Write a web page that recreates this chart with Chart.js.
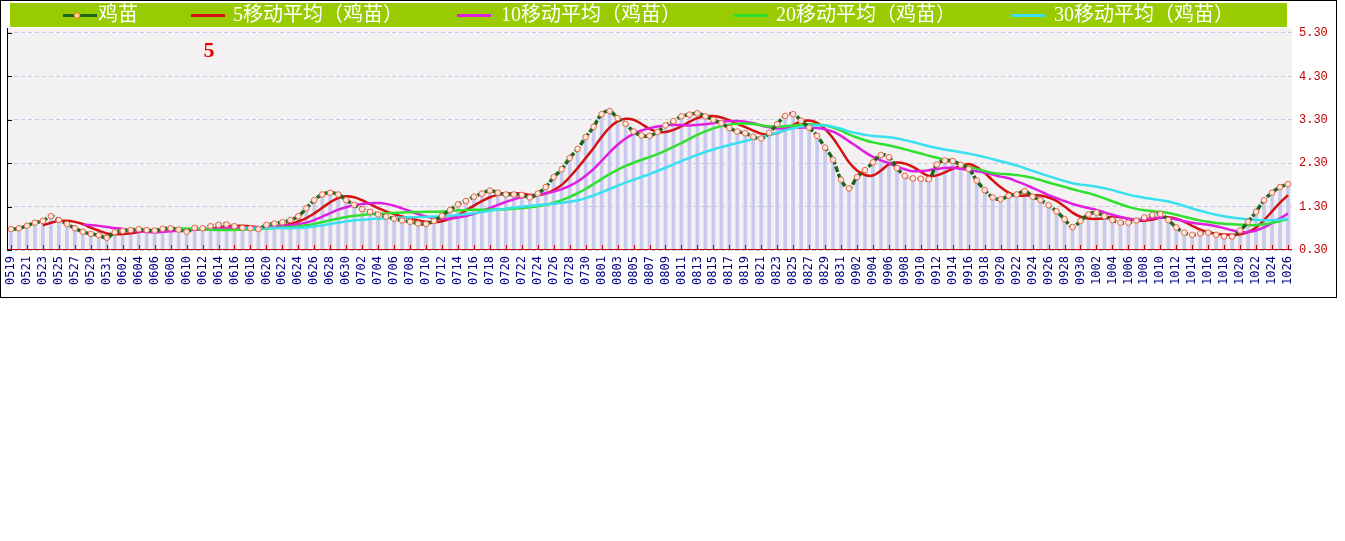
<!DOCTYPE html>
<html>
<head>
<meta charset="utf-8">
<script src="https://cdn.jsdelivr.net/npm/chart.js@4.4.0/dist/chart.umd.min.js"></script>
<style>
  html, body { margin: 0; padding: 0; background: #fff; }
  #box { position: absolute; left: 0; top: 0; width: 1335px; height: 296px; border: 1px solid #000; }
  canvas { display: block; }
</style>
</head>
<body>
<div id="box"><canvas id="chart" width="1335" height="296"></canvas></div>
<script>
// daily dates, 0519 .. 1026
const dates = [
  "0519","0520","0521","0522","0523","0524","0525","0526","0527","0528","0529","0530","0531",
  "0601","0602","0603","0604","0605","0606","0607","0608","0609","0610","0611","0612","0613","0614","0615",
  "0616","0617","0618","0619","0620","0621","0622","0623","0624","0625","0626","0627","0628","0629","0630",
  "0701","0702","0703","0704","0705","0706","0707","0708","0709","0710","0711","0712","0713","0714","0715",
  "0716","0717","0718","0719","0720","0721","0722","0723","0724","0725","0726","0727","0728","0729","0730","0731",
  "0801","0802","0803","0804","0805","0806","0807","0808","0809","0810","0811","0812","0813","0814","0815",
  "0816","0817","0818","0819","0820","0821","0822","0823","0824","0825","0826","0827","0828","0829","0830","0831",
  "0901","0902","0903","0904","0905","0906","0907","0908","0909","0910","0911","0912","0913","0914","0915",
  "0916","0917","0918","0919","0920","0921","0922","0923","0924","0925","0926","0927","0928","0929","0930",
  "1001","1002","1003","1004","1005","1006","1007","1008","1009","1010","1011","1012","1013",
  "1014","1015","1016","1017","1018","1019","1020","1021","1022","1023","1024","1025","1026"
];

// 鸡苗 price
const price = [
  0.78, 0.80, 0.86, 0.93, 0.97, 1.08, 0.99, 0.90, 0.80, 0.72, 0.67, 0.64, 0.58,
  0.71, 0.74, 0.76, 0.78, 0.76, 0.75, 0.79, 0.80, 0.77, 0.72, 0.81, 0.80, 0.85, 0.88, 0.89,
  0.85, 0.81, 0.80, 0.78, 0.88, 0.91, 0.94, 0.99, 1.08, 1.26, 1.45, 1.58, 1.62, 1.58, 1.45,
  1.34, 1.24, 1.18, 1.12, 1.07, 1.02, 0.98, 0.95, 0.91, 0.90, 0.97, 1.09, 1.22, 1.35, 1.43,
  1.53, 1.60, 1.67, 1.62, 1.58, 1.58, 1.57, 1.51, 1.60, 1.75, 1.98, 2.16, 2.42, 2.63, 2.90, 3.14,
  3.43, 3.50, 3.34, 3.21, 3.03, 2.94, 2.93, 3.02, 3.17, 3.27, 3.38, 3.42, 3.45, 3.38, 3.30,
  3.22, 3.11, 3.03, 2.99, 2.91, 2.87, 3.00, 3.20, 3.39, 3.43, 3.28, 3.12, 2.93, 2.66, 2.38, 1.92,
  1.72, 1.98, 2.14, 2.32, 2.49, 2.44, 2.19, 2.01, 1.95, 1.94, 1.93, 2.27, 2.36, 2.35, 2.26,
  2.17, 1.90, 1.68, 1.51, 1.47, 1.55, 1.58, 1.66, 1.53, 1.45, 1.33, 1.19, 1.01, 0.83, 0.97,
  1.12, 1.16, 1.08, 0.99, 0.93, 0.93, 0.98, 1.05, 1.11, 1.13, 0.99, 0.82, 0.70,
  0.65, 0.68, 0.70, 0.65, 0.61, 0.61, 0.75, 0.95, 1.18, 1.45, 1.62, 1.75, 1.82
];

const yTicks = [0.3, 1.3, 2.3, 3.3, 4.3, 5.3];
const yMin = 0.3;
const yMax = 5.415;

const maSpans = [5, 10, 20, 30];
const seriesNames = ["鸡苗", "5移动平均（鸡苗）", "10移动平均（鸡苗）", "20移动平均（鸡苗）", "30移动平均（鸡苗）"];
const seriesColors = ["#1a661a", "#d41010", "#e020e0", "#30e030", "#38e0f0"];

// N移动平均 is, by definition, the mean of the last N prices
function movingAverage(src, n) {
  return src.map((_, i) => {
    if (i < n - 1) return null;
    let s = 0;
    for (let k = i - n + 1; k <= i; k++) s += src[k];
    return s / n;
  });
}

const legendSampleX = [62, 190, 456, 733, 1010];
const legendTextX = [97, 232, 500, 775, 1053];

const decor = {
  id: "decor",
  beforeDraw(chart) {
    const { ctx, chartArea: a } = chart;
    ctx.save();
    ctx.fillStyle = "#fff";
    ctx.fillRect(0, 0, chart.width, chart.height);
    ctx.fillStyle = "#f3f1f1";
    ctx.fillRect(a.left, a.top, a.right - a.left, a.bottom - a.top);
    ctx.restore();
  },
  afterDatasetsDraw(chart) {
    const { ctx, chartArea: a, scales } = chart;
    ctx.save();
    // left axis
    ctx.strokeStyle = "#000";
    ctx.lineWidth = 1;
    ctx.beginPath();
    ctx.moveTo(a.left + 0.5, a.top);
    ctx.lineTo(a.left + 0.5, a.bottom);
    yTicks.forEach((v) => {
      const py = Math.round(scales.y.getPixelForValue(v)) + 0.5;
      ctx.moveTo(a.left, py);
      ctx.lineTo(a.left + 5, py);
    });
    ctx.stroke();
    // bottom axis, red, ticks pointing up
    ctx.strokeStyle = "#c00000";
    ctx.beginPath();
    ctx.moveTo(a.left, a.bottom - 0.5);
    ctx.lineTo(a.right, a.bottom - 0.5);
    dates.forEach((d, i) => {
      if (i % 2) return;
      const px = Math.round(scales.x.getPixelForValue(i)) + 0.5;
      ctx.moveTo(px, a.bottom);
      ctx.lineTo(px, a.bottom - 5);
    });
    ctx.stroke();
    // the red "5" marker
    ctx.fillStyle = "#e00000";
    ctx.font = 'bold 22px "Liberation Serif", serif';
    ctx.textAlign = "center";
    ctx.textBaseline = "middle";
    ctx.fillText("5", 208, 50);
    ctx.restore();
  },
  afterDraw(chart) {
    const ctx = chart.ctx;
    ctx.save();
    ctx.fillStyle = "#99cc00";
    ctx.fillRect(9, 2, 1277, 24);
    seriesNames.forEach((name, i) => {
      const x0 = legendSampleX[i];
      ctx.strokeStyle = seriesColors[i];
      ctx.lineWidth = 3;
      ctx.beginPath();
      ctx.moveTo(x0, 14.5);
      ctx.lineTo(x0 + 34, 14.5);
      ctx.stroke();
      if (i === 0) {
        ctx.beginPath();
        ctx.arc(x0 + 14, 14.5, 3, 0, Math.PI * 2);
        ctx.fillStyle = "#ffd27a";
        ctx.fill();
        ctx.strokeStyle = "#e07020";
        ctx.lineWidth = 1;
        ctx.stroke();
      }
      ctx.fillStyle = "#fff";
      ctx.font = '20px "Liberation Serif", "Noto Sans CJK SC", serif';
      ctx.textAlign = "left";
      ctx.textBaseline = "middle";
      ctx.fillText(name, legendTextX[i], 15);
    });
    ctx.restore();
  },
};

const maDatasets = maSpans.map((n, k) => ({
  type: "line",
  label: seriesNames[k + 1],
  data: movingAverage(price, n),
  borderColor: seriesColors[k + 1],
  borderWidth: 2.5,
  pointRadius: 0,
  tension: 0.4,
  fill: false,
  order: 6 - k,
}));

new Chart(document.getElementById("chart"), {
  type: "bar",
  data: {
    labels: dates,
    datasets: [
      {
        type: "line",
        label: seriesNames[0],
        data: price,
        borderColor: seriesColors[0],
        borderWidth: 3.5,
        borderDash: [6, 2],
        tension: 0.4,
        pointRadius: 2.8,
        pointBackgroundColor: "#fde6de",
        pointBorderColor: "#e06a50",
        pointBorderWidth: 1,
        fill: false,
        order: 1,
      },
      ...maDatasets,
      {
        type: "bar",
        label: "bars",
        data: price,
        base: yMin,
        backgroundColor: "#c9c9ef",
        barThickness: 3,
        order: 10,
      },
    ],
  },
  options: {
    responsive: false,
    animation: false,
    layout: { padding: { left: 6, top: 27, right: 0, bottom: 0 } },
    plugins: { legend: { display: false }, tooltip: { enabled: false } },
    scales: {
      x: {
        offset: true,
        grid: { display: false, drawTicks: false },
        border: { display: false },
        ticks: {
          autoSkip: false,
          minRotation: 90,
          maxRotation: 90,
          padding: 6,
          color: "#000080",
          font: { family: "DejaVu Sans Mono", size: 12 },
          callback: (v, i) => (i % 2 ? "" : dates[i]),
        },
        afterFit: (s) => { s.height = 47; },
      },
      y: {
        position: "right",
        min: yMin,
        max: yMax,
        afterBuildTicks: (s) => { s.ticks = yTicks.map((v) => ({ value: v })); },
        grid: { color: "#c8c8e8", drawTicks: false },
        border: { display: false, dash: [4, 3] },
        ticks: {
          padding: 7,
          color: "#c00000",
          font: { family: "Liberation Mono", size: 12 },
          callback: (v) => Number(v).toFixed(2),
        },
        afterFit: (s) => { s.width = 44; },
      },
    },
  },
  plugins: [decor],
});
</script>
</body>
</html>
